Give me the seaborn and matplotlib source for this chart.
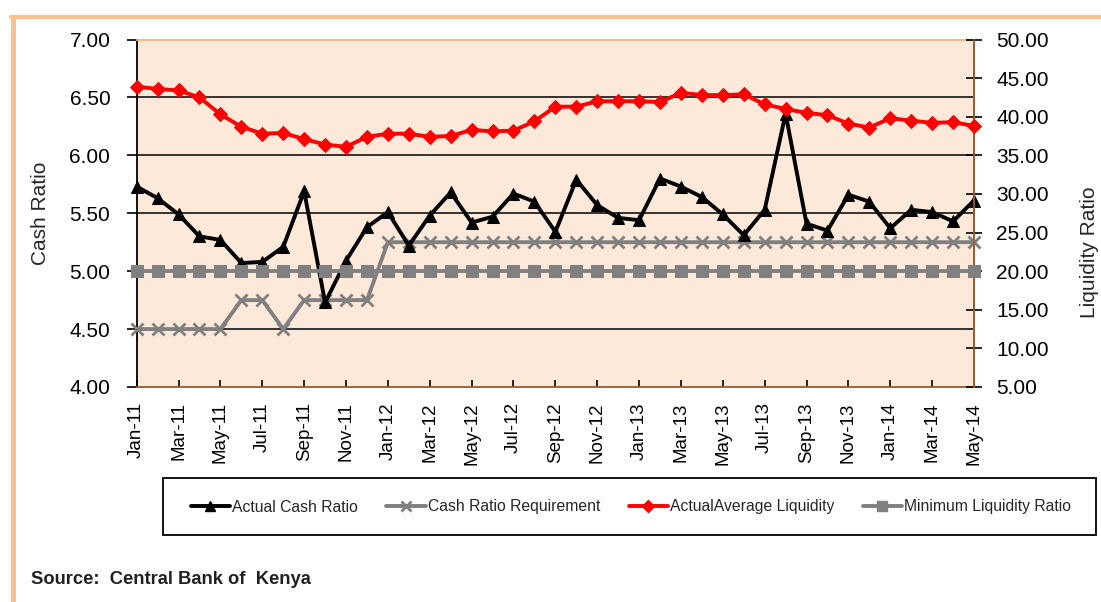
import numpy as np
import matplotlib.pyplot as plt
import pandas as pd
import seaborn as sns
from matplotlib.lines import Line2D
from matplotlib.patches import Rectangle

# Monthly data, Jan-11 to May-14
months = ['Jan-11', 'Feb-11', 'Mar-11', 'Apr-11', 'May-11', 'Jun-11', 'Jul-11', 'Aug-11',
          'Sep-11', 'Oct-11', 'Nov-11', 'Dec-11', 'Jan-12', 'Feb-12', 'Mar-12', 'Apr-12',
          'May-12', 'Jun-12', 'Jul-12', 'Aug-12', 'Sep-12', 'Oct-12', 'Nov-12', 'Dec-12',
          'Jan-13', 'Feb-13', 'Mar-13', 'Apr-13', 'May-13', 'Jun-13', 'Jul-13', 'Aug-13',
          'Sep-13', 'Oct-13', 'Nov-13', 'Dec-13', 'Jan-14', 'Feb-14', 'Mar-14', 'Apr-14',
          'May-14']

# left axis (cash ratio)
cash_ratio = [5.73, 5.63, 5.49, 5.30, 5.27, 5.07, 5.08, 5.21, 5.69, 4.73, 5.09, 5.38,
              5.51, 5.22, 5.48, 5.68, 5.42, 5.47, 5.67, 5.60, 5.34, 5.79, 5.57, 5.46,
              5.44, 5.80, 5.73, 5.64, 5.49, 5.31, 5.53, 6.36, 5.41, 5.35, 5.66, 5.60,
              5.37, 5.53, 5.51, 5.43, 5.61]
cash_req = [4.50, 4.50, 4.50, 4.50, 4.50, 4.75, 4.75, 4.50, 4.75, 4.75, 4.75, 4.75,
            5.25, 5.25, 5.25, 5.25, 5.25, 5.25, 5.25, 5.25, 5.25, 5.25, 5.25, 5.25,
            5.25, 5.25, 5.25, 5.25, 5.25, 5.25, 5.25, 5.25, 5.25, 5.25, 5.25, 5.25,
            5.25, 5.25, 5.25, 5.25, 5.25]

# right axis (liquidity ratio)
liquidity = [43.9, 43.6, 43.4, 42.5, 40.3, 38.7, 37.8, 37.9, 37.1, 36.4, 36.1, 37.4,
             37.8, 37.8, 37.4, 37.5, 38.3, 38.1, 38.2, 39.4, 41.3, 41.3, 42.0, 42.0,
             42.0, 41.9, 43.1, 42.8, 42.8, 42.9, 41.6, 41.0, 40.5, 40.2, 39.1, 38.6,
             39.8, 39.5, 39.2, 39.3, 38.8]
min_liquidity = [20.0, 20.0, 20.0, 20.0, 20.0, 20.0, 20.0, 20.0, 20.0, 20.0, 20.0, 20.0,
                 20.0, 20.0, 20.0, 20.0, 20.0, 20.0, 20.0, 20.0, 20.0, 20.0, 20.0, 20.0,
                 20.0, 20.0, 20.0, 20.0, 20.0, 20.0, 20.0, 20.0, 20.0, 20.0, 20.0, 20.0,
                 20.0, 20.0, 20.0, 20.0, 20.0]

df = pd.DataFrame({'month': months, 'cash_ratio': cash_ratio, 'cash_req': cash_req,
                   'liquidity': liquidity, 'min_liquidity': min_liquidity})
df['pos'] = np.arange(len(df))

sns.set_style('ticks')
plt.rcParams['font.family'] = ['Liberation Sans', 'DejaVu Sans']

W, H = 1101, 602
fig = plt.figure(figsize=(W / 100, H / 100), dpi=100)

# plot area in pixel coords
left, right, top, bottom = 136.7, 974, 39.5, 387
ax = fig.add_axes([left / W, 1 - bottom / H, (right - left) / W, (bottom - top) / H])
ax.set_facecolor('#FCE9DA')
ax2 = ax.twinx()

brown = '#9C5B2E'
gray = '#808080'

# horizontal gridlines on the cash ratio scale
left_ticks = np.arange(4.0, 7.01, 0.5)
for v in left_ticks[1:-1]:
    ax.axhline(v, color='black', linewidth=1.1, zorder=0.5)

# primary axis series
sns.lineplot(data=df, x='pos', y='cash_req', ax=ax, color=gray, marker='x', markersize=8,
             markeredgewidth=2, markeredgecolor=gray, linewidth=2.8, clip_on=False,
             legend=False, zorder=3)
sns.lineplot(data=df, x='pos', y='cash_ratio', ax=ax, color='black', marker='^', markersize=8,
             markeredgecolor='black', linewidth=2.8, clip_on=False, legend=False, zorder=4)

# secondary axis series
sns.lineplot(data=df, x='pos', y='min_liquidity', ax=ax2, color=gray, marker='s', markersize=8,
             markeredgecolor=gray, linewidth=2.8, clip_on=False, legend=False, zorder=3)
sns.lineplot(data=df, x='pos', y='liquidity', ax=ax2, color='#FF0000', marker='D', markersize=7,
             markeredgecolor='#FF0000', linewidth=2.8, clip_on=False, legend=False, zorder=4)

# axes ranges and ticks
ax.set_xlim(0, len(months) - 1)
ax.set_xticks(df['pos'][::2])
ax.set_xticklabels(months[::2], rotation=90)
ax.set_ylim(4, 7)
ax.set_yticks(left_ticks)
ax.set_yticklabels(['%.2f' % v for v in left_ticks])
ax2.set_ylim(5, 50)
right_ticks = np.arange(5, 50.1, 5)
ax2.set_yticks(right_ticks)
ax2.set_yticklabels(['%.2f' % v for v in right_ticks])
ax.set_xlabel('')
ax.set_ylabel('')
ax2.set_ylabel('')

ax.tick_params(axis='x', bottom=True, direction='in', length=5, width=1.2, color='black',
               pad=11, labelsize=13.5, labelcolor='black')
ax.tick_params(axis='y', left=True, direction='out', length=7, width=1.2, color='black',
               pad=12, labelsize=15, labelcolor='black')
ax2.tick_params(axis='y', right=True, direction='inout', length=12, width=1.2, color='black',
                pad=10, labelsize=15, labelcolor='black')

# spines
ax.spines['left'].set_color('black')
ax.spines['bottom'].set_color(brown)
ax.spines['top'].set_color('#F4B183')
ax.spines['right'].set_color(brown)
for s in ['left', 'bottom', 'top', 'right']:
    ax.spines[s].set_linewidth(1.3)
for s in ['left', 'bottom', 'top']:
    ax2.spines[s].set_visible(False)
ax2.spines['right'].set_color(brown)
ax2.spines['right'].set_linewidth(1.3)

# axis titles
fig.text(31 / W, 1 - 213 / H, 'Cash Ratio', rotation=90, ha='left', va='center', fontsize=15)
fig.text(1080 / W, 1 - 252 / H, 'Liquidity Ratio', rotation=90, ha='left', va='center',
         fontsize=15)

# legend box
fig.add_artist(Rectangle((163 / W, 1 - 535 / H), (1096 - 163) / W, 57 / H,
                         transform=fig.transFigure, facecolor='white', edgecolor='black',
                         linewidth=1.3))
handles = [
    Line2D([], [], color='black', marker='^', markersize=7, linewidth=2.8),
    Line2D([], [], color=gray, marker='x', markersize=7, markeredgewidth=2, linewidth=2.8),
    Line2D([], [], color='#FF0000', marker='D', markersize=6, linewidth=2.8),
    Line2D([], [], color=gray, marker='s', markersize=7, linewidth=2.8),
]
labels = ['Actual Cash Ratio', 'Cash Ratio Requirement', 'ActualAverage Liquidity',
          'Minimum Liquidity Ratio']
fig.legend(handles, labels, loc='center', bbox_to_anchor=(631 / W, 1 - 507 / H), ncol=4,
           frameon=False, fontsize=11.3, handlelength=2.5, handletextpad=0.15,
           columnspacing=1.8)

# orange frame of the exhibit
frame_col = '#FAC090'
fig.add_artist(Line2D([12.5 / W, 12.5 / W], [0, 1 - 17 / H], color=frame_col, linewidth=3.6,
                      transform=fig.transFigure))
fig.add_artist(Line2D([11 / W, 1], [1 - 17 / H, 1 - 17 / H], color=frame_col, linewidth=3,
                      transform=fig.transFigure))

# source note
fig.text(31 / W, 1 - 580 / H, 'Source:  Central Bank of  Kenya', fontsize=13.2,
         fontweight='bold', color='#231F20', va='center')

fig.savefig('out.png', dpi=100)
